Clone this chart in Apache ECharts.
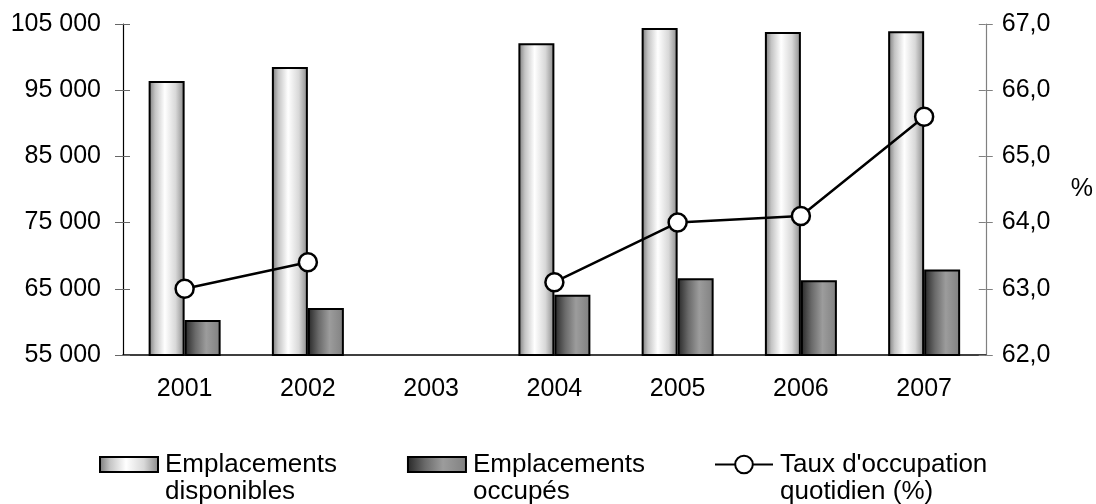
<!DOCTYPE html>
<html>
<head>
<meta charset="utf-8">
<script src="https://cdn.jsdelivr.net/npm/echarts@6/dist/echarts.min.js"></script>
<style>html,body{margin:0;padding:0;background:#fff}#c{width:1096px;height:504px}</style>
</head>
<body>
<div id="c"></div>
<script>
var categories = ['2001','2002','2003','2004','2005','2006','2007'];
var disponibles = [96400, 98500, null, 102100, 104400, 103800, 103900];
var occupes = [60300, 62100, null, 64100, 66600, 66300, 67900];
var taux = [63.0, 63.4, null, 63.1, 64.0, 64.1, 65.6];
var names = ['Emplacements disponibles', 'Emplacements occupés', "Taux d'occupation quotidien (%)"];
var legendText = {};
legendText[names[0]] = '\nEmplacements\ndisponibles';
legendText[names[1]] = '\nEmplacements\noccupés';
legendText[names[2]] = "\nTaux d'occupation\nquotidien (%)";

var FONT = "'Liberation Sans', Arial, sans-serif";
var FS = 25;
var LFS = 26;
function fmtThousands(v){ return String(v).replace(/\B(?=(\d{3})+(?!\d))/g, ' '); }

var lightGrad = {type:'linear', x:0, y:0, x2:1, y2:0, colorStops:[
  {offset:0, color:'#777'}, {offset:0.18, color:'#c4c4c4'}, {offset:0.45, color:'#fff'},
  {offset:0.75, color:'#d8d8d8'}, {offset:1, color:'#888'}]};
var darkGrad = {type:'linear', x:0, y:0, x2:1, y2:0, colorStops:[
  {offset:0, color:'#262626'}, {offset:0.3, color:'#6a6a6a'}, {offset:0.6, color:'#9c9c9c'},
  {offset:1, color:'#808080'}]};

var legendTextStyle = {fontFamily:FONT, fontSize:LFS, color:'#000', lineHeight:27, padding:[0,0,0,2]};

var chart = echarts.init(document.getElementById('c'), null, {renderer:'canvas'});
chart.setOption({
  animation:false,
  backgroundColor:'#fff',
  textStyle:{fontFamily:FONT},
  grid:{left:123, right:110, top:24, bottom:149},
  legend:[{
    top:424, left:99, padding:0, itemGap:70, itemWidth:58, itemHeight:15, icon:'rect',
    data:[names[0], names[1]],
    formatter:function(n){ return legendText[n]; },
    textStyle:legendTextStyle
  },{
    top:424, left:714, padding:0, itemWidth:58, itemHeight:22,
    data:[names[2]],
    formatter:function(n){ return legendText[n]; },
    textStyle:legendTextStyle
  }],
  xAxis:[{
    type:'category', data:categories,
    axisLine:{lineStyle:{color:'#000', width:1.5}},
    axisTick:{length:8, lineStyle:{color:'#333'}},
    axisLabel:{fontFamily:FONT, fontSize:FS, color:'#000', margin:22}
  },{
    type:'category', data:categories, position:'bottom',
    axisLine:{show:false}, axisLabel:{show:false},
    axisTick:{inside:true, length:6, lineStyle:{color:'#333'}}
  }],
  yAxis:[{
    type:'value', min:55000, max:105000, interval:10000, position:'left',
    axisLine:{show:true, lineStyle:{color:'#000', width:1.2}},
    axisTick:{show:true, length:8, lineStyle:{color:'#666'}},
    splitLine:{show:false},
    axisLabel:{fontFamily:FONT, fontSize:FS, color:'#000', margin:22, formatter:fmtThousands}
  },{
    type:'value', min:62, max:67, interval:1, position:'right',
    name:'%', nameLocation:'middle', nameRotate:0, nameGap:85,
    nameTextStyle:{fontFamily:FONT, fontSize:FS, color:'#000'},
    axisLine:{show:true, lineStyle:{color:'#808080', width:1.2}},
    axisTick:{show:true, length:7, lineStyle:{color:'#808080'}},
    splitLine:{show:false},
    axisLabel:{fontFamily:FONT, fontSize:FS, color:'#000', margin:16, formatter:function(v){return v.toFixed(1).replace('.', ',');}}
  },{
    type:'value', min:55000, max:105000, interval:10000, position:'left',
    axisLine:{show:false}, axisLabel:{show:false}, splitLine:{show:false},
    axisTick:{show:true, inside:true, length:7, lineStyle:{color:'#666'}}
  },{
    type:'value', min:62, max:67, interval:1, position:'right',
    axisLine:{show:false}, axisLabel:{show:false}, splitLine:{show:false},
    axisTick:{show:true, inside:true, length:7, lineStyle:{color:'#808080'}}
  }],
  series:[{
    name:names[0], type:'bar', data:disponibles, barWidth:36, barGap:'0%',
    itemStyle:{color:lightGrad, borderColor:'#000', borderWidth:2}
  },{
    name:names[1], type:'bar', data:occupes, barWidth:36, barGap:'0%',
    itemStyle:{color:darkGrad, borderColor:'#000', borderWidth:2}
  },{
    name:names[2], type:'line', yAxisIndex:1, data:taux, connectNulls:false,
    symbol:'circle', symbolSize:18, z:5,
    lineStyle:{color:'#000', width:2.5},
    itemStyle:{color:'#fff', borderColor:'#000', borderWidth:2.5}
  }]
});
</script>
</body>
</html>
